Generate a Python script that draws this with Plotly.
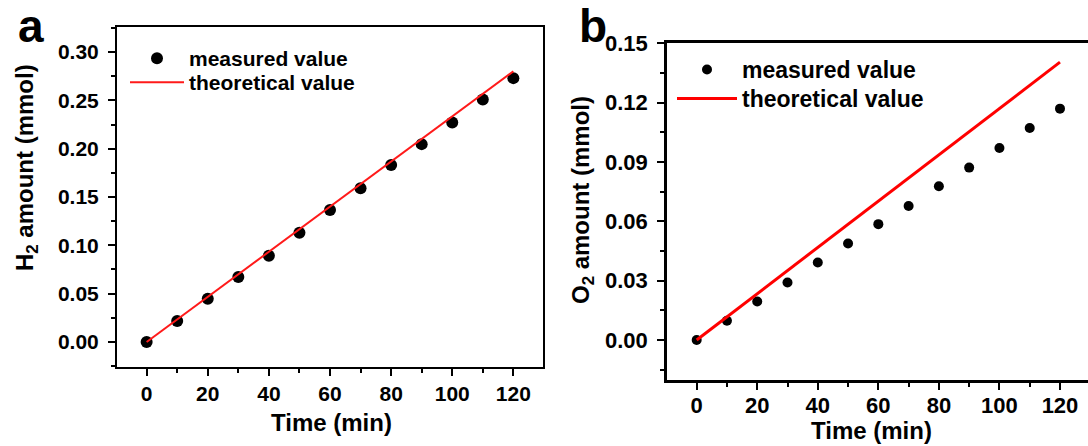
import plotly.graph_objects as go

# ---------------- data ----------------
time_min = [0, 10, 20, 30, 40, 50, 60, 70, 80, 90, 100, 110, 120]
h2_measured = [0.0, 0.0217, 0.0448, 0.0672, 0.0893, 0.113, 0.1365, 0.159, 0.183, 0.2047, 0.227, 0.251, 0.273]
o2_measured = [0.0, 0.0098, 0.0195, 0.0291, 0.0392, 0.0488, 0.0586, 0.0678, 0.0778, 0.0872, 0.0971, 0.1072, 0.117]
theory_time = [0, 120]
h2_theory = [0.0, 0.280]
o2_theory = [0.0, 0.1405]

x_ticks = [0, 20, 40, 60, 80, 100, 120]
h2_ticks = [0.00, 0.05, 0.10, 0.15, 0.20, 0.25, 0.30]
o2_ticks = [0.00, 0.03, 0.06, 0.09, 0.12, 0.15]

# ---------------- layout helpers ----------------
W, H = 1088, 446
FONT = "Liberation Sans, Arial, sans-serif"


def px_x(p):
    return p / W


def px_y(p):
    return (H - p) / H


fig = go.Figure()

# panel a
fig.add_trace(go.Scatter(x=time_min, y=h2_measured, mode="markers", name="measured value",
                         marker=dict(color="black", size=12), xaxis="x", yaxis="y", legend="legend"))
fig.add_trace(go.Scatter(x=theory_time, y=h2_theory, mode="lines", name="theoretical value",
                         line=dict(color="#ff1a1a", width=2), xaxis="x", yaxis="y", legend="legend2"))
# panel b
fig.add_trace(go.Scatter(x=time_min, y=o2_measured, mode="markers", name="measured value",
                         marker=dict(color="black", size=10), xaxis="x2", yaxis="y2", legend="legend3"))
fig.add_trace(go.Scatter(x=theory_time, y=o2_theory, mode="lines", name="theoretical value",
                         line=dict(color="#ff0000", width=3), xaxis="x2", yaxis="y2", legend="legend4"))

tickfont = dict(family=FONT, size=21, color="black", weight="bold")


def xaxis(domain, rng, anchor, lw, standoff):
    return dict(domain=domain, range=rng, anchor=anchor, tickvals=x_ticks,
                ticks="outside", ticklen=7, tickwidth=2, tickcolor="black", ticklabelstandoff=standoff,
                minor=dict(dtick=10, tick0=0, ticks="outside", ticklen=4, tickwidth=2, tickcolor="black"),
                showline=True, linewidth=lw, linecolor="black", mirror=True,
                showgrid=False, zeroline=False, tickfont=tickfont, fixedrange=True)


def yaxis(domain, rng, anchor, vals, fmt, minor_dt, lw, mirror):
    return dict(domain=domain, range=rng, anchor=anchor, tickvals=vals, tickformat=fmt,
                ticks="outside", ticklen=7, tickwidth=2, tickcolor="black", ticklabelstandoff=5,
                minor=dict(dtick=minor_dt, tick0=0, ticks="outside", ticklen=4, tickwidth=2, tickcolor="black"),
                showline=True, linewidth=lw, linecolor="black", mirror=mirror,
                showgrid=False, zeroline=False, tickfont=tickfont, fixedrange=True)


xa = xaxis([px_x(117), px_x(543)], [-9.7, 129.7], "y", 2, 0)
ya = yaxis([px_y(367), px_y(27)], [-0.0259, 0.3259], "x", h2_ticks, ".2f", 0.025, 2, True)
xb = xaxis([px_x(667), 1.0], [-9.8, 129.25], "y2", 2.5, -3)
yb = yaxis([px_y(380), px_y(43)], [-0.0202, 0.1502], "x2", o2_ticks, ".2f", 0.015, 2.5, False)
xb["tickfont"] = dict(tickfont, size=22)
yb["tickfont"] = dict(tickfont, size=22)

annotations = [
    dict(text="a", x=px_x(16), y=px_y(26), xref="paper", yref="paper", xanchor="left", yanchor="middle",
         showarrow=False, font=dict(family=FONT, size=46, color="black", weight="bold")),
    dict(text="b", x=px_x(577), y=px_y(26), xref="paper", yref="paper", xanchor="left", yanchor="middle",
         showarrow=False, font=dict(family=FONT, size=46, color="black", weight="bold")),
    dict(text="Time (min)", x=px_x(331), y=px_y(422), xref="paper", yref="paper", xanchor="center", yanchor="middle",
         showarrow=False, font=dict(family=FONT, size=24, color="black", weight="bold")),
    dict(text="Time (min)", x=px_x(871), y=px_y(430), xref="paper", yref="paper", xanchor="center", yanchor="middle",
         showarrow=False, font=dict(family=FONT, size=24, color="black", weight="bold")),
    dict(text="H<sub>2</sub> amount (mmol)", x=px_x(26), y=px_y(168), xref="paper", yref="paper",
         xanchor="center", yanchor="middle", textangle=-90,
         showarrow=False, font=dict(family=FONT, size=24, color="black", weight="bold")),
    dict(text="O<sub>2</sub> amount (mmol)", x=px_x(583), y=px_y(200), xref="paper", yref="paper",
         xanchor="center", yanchor="middle", textangle=-90,
         showarrow=False, font=dict(family=FONT, size=24, color="black", weight="bold")),
]


def leg(xp, ytop, size, iw):
    return dict(x=px_x(xp), y=px_y(ytop), xanchor="left", yanchor="top", bgcolor="rgba(0,0,0,0)",
                font=dict(family=FONT, size=size, color="black", weight="bold"), itemwidth=iw)


fig.update_layout(
    width=W, height=H, margin=dict(l=0, r=0, t=0, b=0, autoexpand=False),
    paper_bgcolor="white", plot_bgcolor="white",
    xaxis=xa, yaxis=ya, xaxis2=xb, yaxis2=yb,
    annotations=annotations,
    legend=leg(125, 38, 21, 54),
    legend2=leg(125, 62, 21, 54),
    legend3=leg(672, 48, 23, 60),
    legend4=leg(672, 77, 23, 60),
    showlegend=True,
)

fig.write_html("out.html", config={"displayModeBar": False},
               post_script="document.body.style.margin='0';document.body.style.overflow='hidden';")
